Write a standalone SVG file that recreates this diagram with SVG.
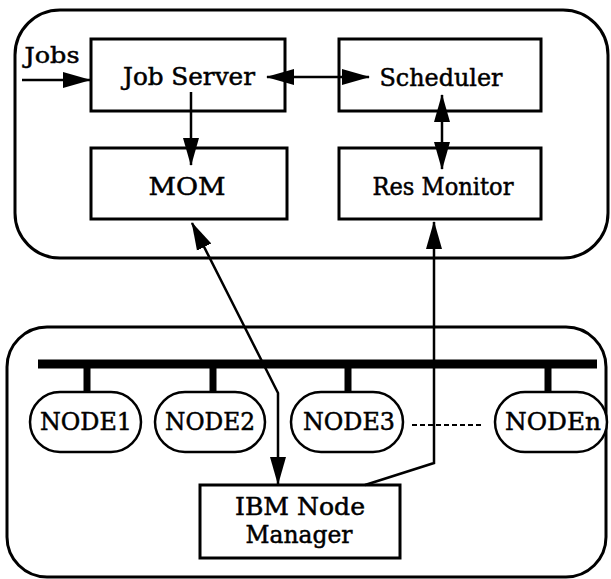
<svg xmlns="http://www.w3.org/2000/svg" width="611" height="579" viewBox="0 0 611 579">
<defs>
<marker id="ah" markerUnits="userSpaceOnUse" markerWidth="30" markerHeight="18" refX="27" refY="8" orient="auto-start-reverse" viewBox="0 0 30 16">
<path d="M0,0 L28,8 L0,16 Z" fill="#000"/>
</marker>
</defs>
<style>
.frame{fill:none;stroke:#000;stroke-width:3}
.box{fill:#fff;stroke:#000;stroke-width:3}
.node{fill:#fff;stroke:#000;stroke-width:2.5}
.lbl{font-family:"DejaVu Serif","Liberation Serif",serif;font-size:24px;fill:#000;stroke:#000;stroke-width:0.5;text-anchor:middle}
.lblJ{font-family:"DejaVu Serif","Liberation Serif",serif;font-size:23px;fill:#000;stroke:#000;stroke-width:0.5;text-anchor:middle}
.con{fill:none;stroke:#000;stroke-width:2.5}
.bus{stroke:#000;stroke-width:9}
.stub{stroke:#000;stroke-width:7}
</style>
<rect width="611" height="579" fill="#fff"/>
<rect id="host-frame" class="frame" x="15" y="10" width="593" height="248" rx="45" ry="45"/>
<rect id="sp-frame" class="frame" x="7" y="327" width="599" height="250" rx="40" ry="40"/>
<g id="jobserver"><rect class="box" x="91" y="39" width="194" height="72"/><text class="lbl" x="189" y="85" textLength="132" lengthAdjust="spacingAndGlyphs">Job Server</text></g>
<g id="scheduler"><rect class="box" x="339" y="39" width="202" height="72"/><text class="lbl" x="441" y="86" textLength="123" lengthAdjust="spacingAndGlyphs">Scheduler</text></g>
<g id="mom"><rect class="box" x="91" y="148" width="196" height="71"/><text class="lbl" x="187" y="195" textLength="77" lengthAdjust="spacingAndGlyphs">MOM</text></g>
<g id="resmonitor"><rect class="box" x="339" y="148" width="202" height="71"/><text class="lbl" x="443" y="195" textLength="141" lengthAdjust="spacingAndGlyphs">Res Monitor</text></g>
<g id="jobs"><text class="lblJ" x="52" y="63" textLength="55" lengthAdjust="spacingAndGlyphs">Jobs</text></g>
<g id="network">
<line class="bus" x1="38" y1="364" x2="597" y2="364"/>
<line class="stub" x1="87" y1="364" x2="87" y2="394"/>
<line class="stub" x1="213" y1="364" x2="213" y2="394"/>
<line class="stub" x1="348" y1="364" x2="348" y2="394"/>
<line class="stub" x1="548" y1="364" x2="548" y2="394"/>
</g>
<g id="node1"><rect class="node" x="30" y="392" width="111" height="60" rx="30" ry="30"/><text class="lbl" x="86" y="430" textLength="92" lengthAdjust="spacingAndGlyphs">NODE1</text></g>
<g id="node2"><rect class="node" x="155" y="392" width="110" height="60" rx="30" ry="30"/><text class="lbl" x="210" y="430" textLength="90" lengthAdjust="spacingAndGlyphs">NODE2</text></g>
<g id="node3"><rect class="node" x="291" y="392" width="112" height="60" rx="30" ry="30"/><text class="lbl" x="349" y="430" textLength="92" lengthAdjust="spacingAndGlyphs">NODE3</text></g>
<g id="noden"><rect class="node" x="495" y="392" width="112" height="60" rx="30" ry="30"/><text class="lbl" x="553" y="430" textLength="96" lengthAdjust="spacingAndGlyphs">NODEn</text></g>
<g id="ibmnm"><rect class="box" x="200" y="485" width="200" height="73"/><text class="lbl" x="300" y="515" textLength="130" lengthAdjust="spacingAndGlyphs">IBM Node</text><text class="lbl" x="299" y="543" textLength="107" lengthAdjust="spacingAndGlyphs">Manager</text></g>
<g id="connectors">
<line class="con" x1="22" y1="80" x2="90" y2="80" marker-end="url(#ah)"/>
<line class="con" x1="267" y1="77" x2="369" y2="77" marker-start="url(#ah)" marker-end="url(#ah)"/>
<line class="con" x1="191" y1="92" x2="191" y2="165" marker-end="url(#ah)"/>
<line class="con" x1="442" y1="95" x2="442" y2="169" marker-start="url(#ah)" marker-end="url(#ah)"/>
<polyline class="con" points="192,223 278,393 278,484" marker-start="url(#ah)" marker-end="url(#ah)"/>
<polyline class="con" points="434,222 434,463 365,485" marker-start="url(#ah)"/>
<line x1="412" y1="425" x2="482" y2="425" stroke="#000" stroke-width="2" stroke-dasharray="5,3"/>
</g>
</svg>
